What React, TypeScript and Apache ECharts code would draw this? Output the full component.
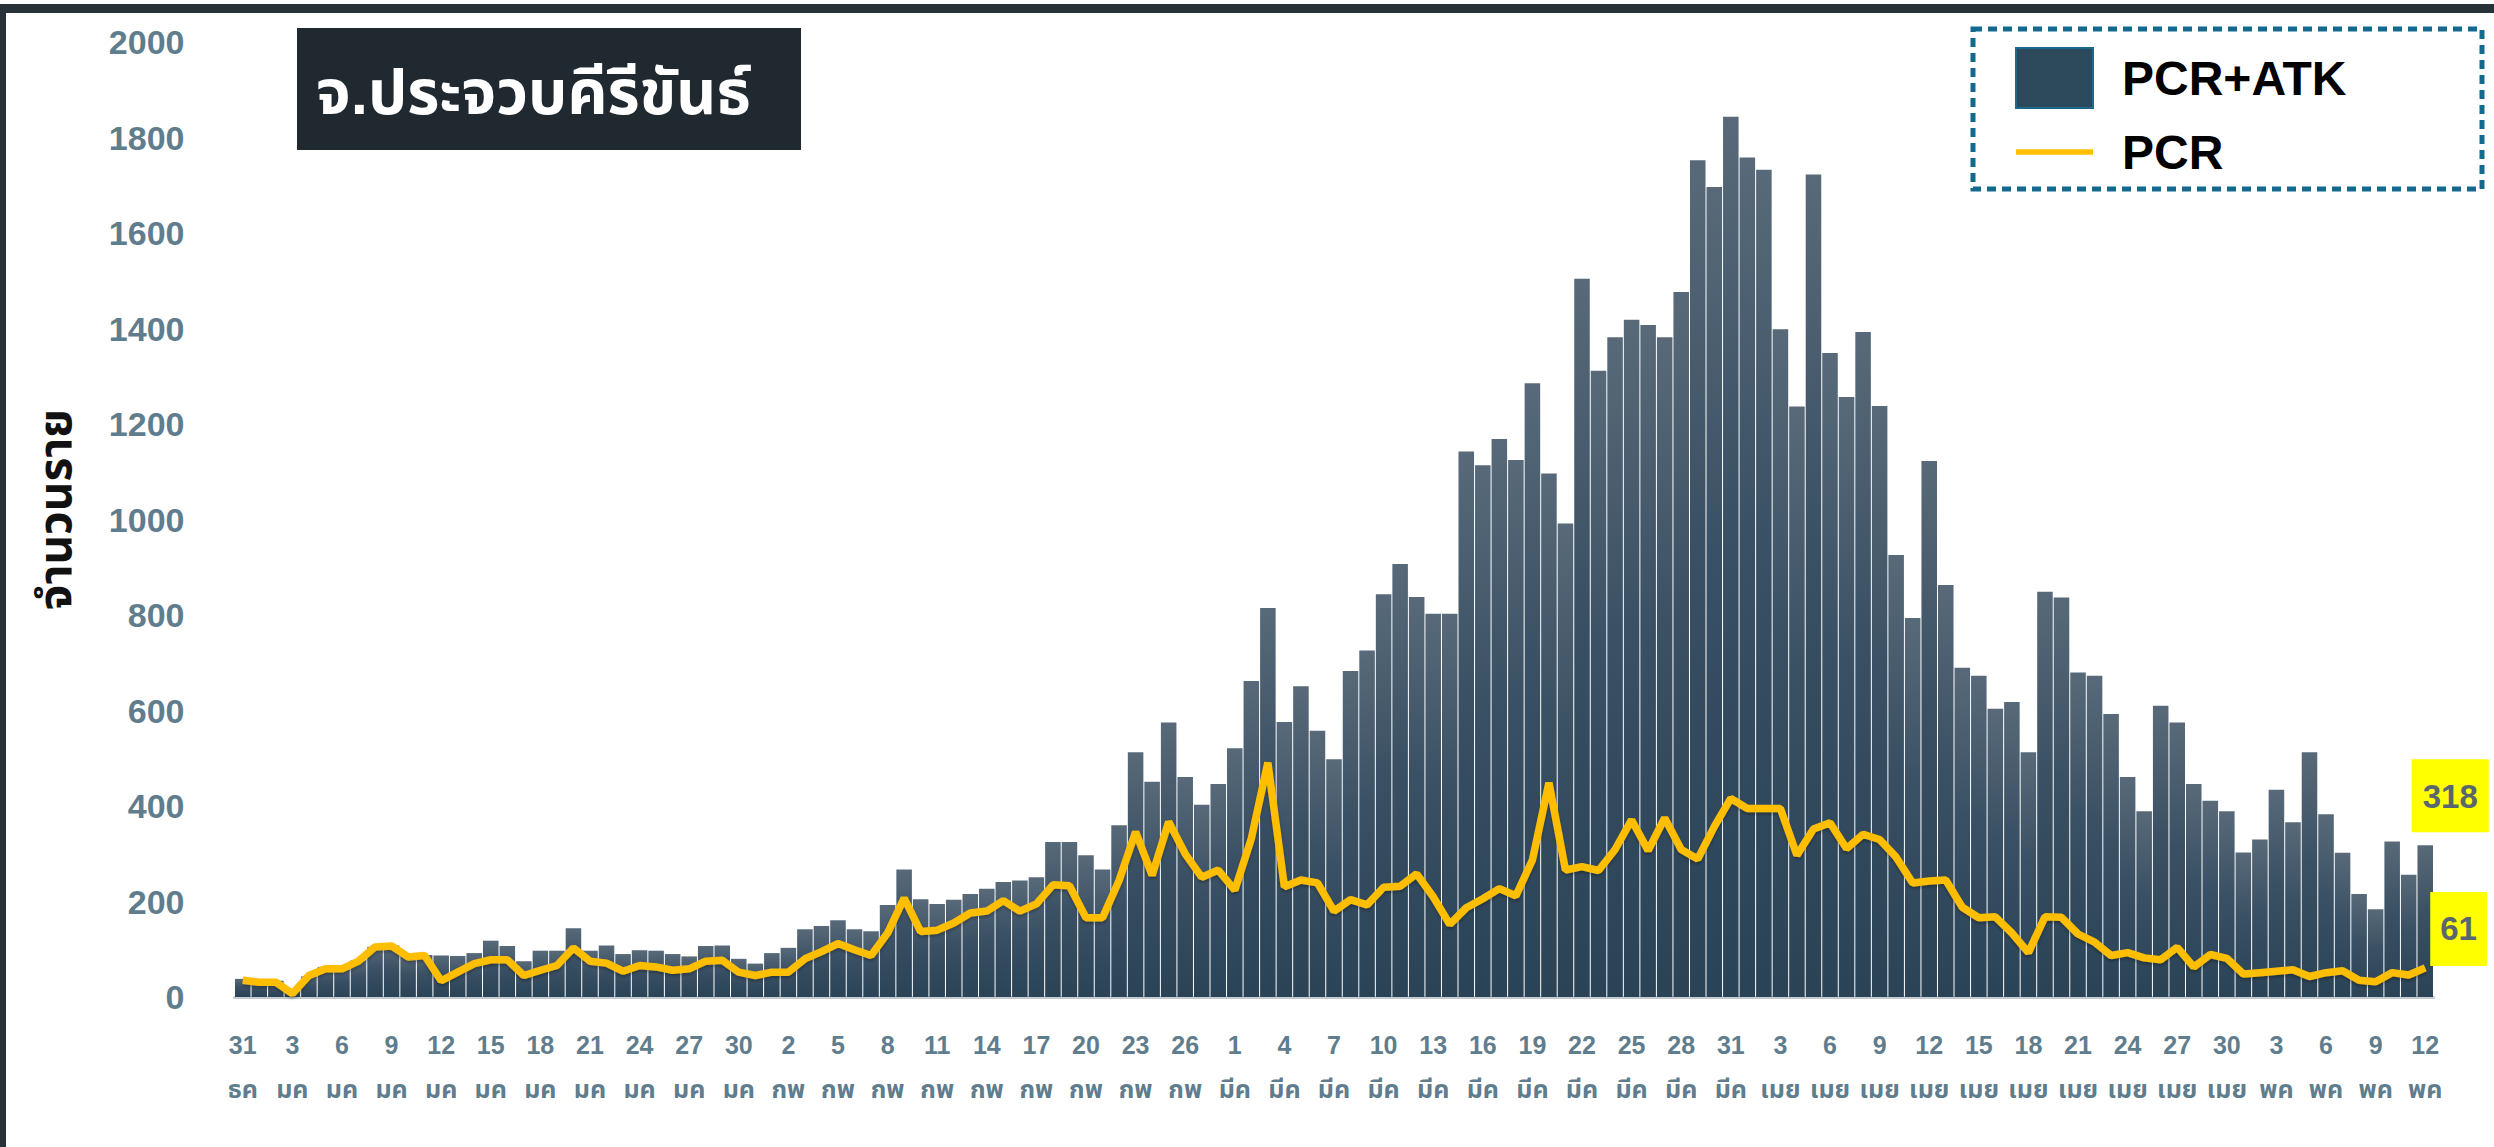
import React, { useEffect, useRef } from 'react';
import * as echarts from 'echarts';

// Month labels and the day ranges shown (31 Dec .. 12 May)
const monthNames = ['ธค', 'มค', 'กพ', 'มีค', 'เมย', 'พค'];
const monthFirstDay = [31, 1, 1, 1, 1, 1];
const monthLastDay = [31, 31, 28, 31, 30, 12];

// Daily new cases, PCR + ATK (bars)
const pcrAtk = [
  38, 35, 34, 15, 43, 63, 63, 77, 105, 108,
  88, 88, 87, 86, 92, 118, 107, 75, 97, 97,
  144, 97, 108, 90, 98, 97, 90, 85, 107, 108,
  80, 70, 92, 103, 142, 149, 161, 142, 138, 193,
  267, 205, 195, 204, 216, 227, 241, 244, 251, 325,
  325, 297, 267, 360, 513, 451, 575, 461, 403, 446,
  521, 662, 815, 576, 651, 558, 498, 683, 726, 844,
  907, 838, 803, 803, 1143, 1114, 1169, 1125, 1286, 1097,
  992, 1505, 1312, 1382, 1419, 1408, 1382, 1477, 1753, 1697,
  1844, 1759, 1733, 1399, 1237, 1723, 1349, 1257, 1393, 1238,
  926, 794, 1123, 863, 690, 673, 604, 618, 513, 849,
  837, 680, 673, 593, 461, 389, 610, 575, 446, 411,
  389, 303, 330, 434, 366, 513, 383, 302, 216, 184,
  326, 256, 318,
];

// Daily new cases, PCR only (line)
const pcr = [
  35, 31, 31, 7, 45, 59, 59, 75, 105, 107,
  84, 87, 34, 52, 70, 78, 78, 45, 56, 66,
  103, 75, 71, 54, 66, 63, 56, 59, 75, 77,
  52, 45, 52, 52, 80, 95, 112, 99, 87, 134,
  207, 137, 140, 155, 176, 180, 202, 180, 195, 235,
  233, 166, 166, 244, 346, 255, 367, 300, 251, 266,
  224, 332, 491, 231, 245, 239, 180, 204, 193, 230,
  232, 258, 210, 152, 187, 206, 227, 212, 287, 449,
  266, 273, 265, 309, 371, 307, 375, 309, 289, 357,
  416, 395, 395, 395, 297, 352, 365, 311, 341, 330,
  293, 239, 243, 245, 188, 166, 168, 134, 93, 168,
  167, 132, 115, 87, 93, 82, 78, 104, 63, 89,
  81, 48, 51, 54, 57, 43, 51, 55, 35, 32,
  51, 46, 61,
];

const yTicks = { min: 0, max: 2000, step: 200 };

const titleText = 'จ.ประจวบคีรีขันธ์';
const yName = 'จำนวนราย';
const seriesNames = ['PCR+ATK', 'PCR'];

function buildCategories(): string[] {
  const out: string[] = [];
  for (let m = 0; m < monthNames.length; m++) {
    for (let d = monthFirstDay[m]; d <= monthLastDay[m]; d++) {
      out.push(d + ' ' + monthNames[m]);
    }
  }
  return out;
}

const FONT = "'Liberation Sans', Arial, 'Noto Sans Thai', 'Noto Sans', sans-serif";
const AXIS_COLOR = '#5f7d8d';

export default function App() {
  const ref = useRef<HTMLDivElement>(null);

  useEffect(() => {
    document.body.style.margin = '0';
    document.body.style.overflow = 'hidden';
    if (!ref.current) return;
    const chart = echarts.init(ref.current, null, { renderer: 'svg' });
    const categories = buildCategories();
    const last = pcrAtk.length - 1;

    const barData = pcrAtk.map((v, i) =>
      i === last
        ? {
            value: v,
            label: {
              show: true,
              position: 'top',
              distance: 0,
              offset: [25, -13],
              formatter: '{c}',
              backgroundColor: '#ffff00',
              padding: [21, 11, 20, 11],
              fontSize: 33,
              lineHeight: 32,
              fontWeight: 'bold',
              color: '#58666e',
              fontFamily: FONT,
            },
          }
        : v
    );

    const option: any = {
      animation: false,
      backgroundColor: '#ffffff',
      textStyle: { fontFamily: FONT },
      grid: { left: 234.5, right: 60.5, top: 42.4, bottom: 150, containLabel: false },
      legend: {
        orient: 'vertical',
        left: 2010,
        top: 42,
        itemWidth: 77,
        itemHeight: 60,
        itemGap: 19,
        textStyle: {
          fontSize: 48,
          fontWeight: 'bold',
          color: '#000000',
          fontFamily: FONT,
          padding: [0, 0, 0, 24],
        },
        data: [
          {
            name: seriesNames[0],
            icon: 'rect',
            itemStyle: { color: '#2d4a5d', borderColor: '#1a6a8c', borderWidth: 2 },
          },
          {
            name: seriesNames[1],
            icon: 'path://M0,0L100,0L100,7L0,7Z',
            itemStyle: { color: '#ffbe00' },
          },
        ],
      },
      xAxis: {
        type: 'category',
        data: categories,
        axisTick: { show: false },
        axisLine: { lineStyle: { color: '#c5cbd0', width: 3 } },
        axisLabel: {
          interval: 2,
          formatter: (v: string) => v.replace(' ', '\n'),
          fontSize: 25,
          lineHeight: 44,
          fontWeight: 'bold',
          color: AXIS_COLOR,
          margin: 26,
          fontFamily: FONT,
        },
      },
      yAxis: {
        type: 'value',
        min: yTicks.min,
        max: yTicks.max,
        interval: yTicks.step,
        splitLine: { show: false },
        axisLine: { show: false },
        axisTick: { show: false },
        axisLabel: {
          fontSize: 34,
          fontWeight: 'bold',
          color: AXIS_COLOR,
          margin: 50,
          fontFamily: FONT,
          formatter: (v: number) => String(v),
        },
        name: yName,
        nameLocation: 'middle',
        nameRotate: 90,
        nameGap: 157,
        nameTextStyle: { fontSize: 46, fontWeight: 'bold', color: '#111111', fontFamily: FONT, padding: [0, 0, 0, 20] },
      },
      series: [
        {
          name: seriesNames[0],
          type: 'bar',
          data: barData,
          barCategoryGap: '6%',
          itemStyle: {
            color: new echarts.graphic.LinearGradient(0, 0, 0, 1, [
              { offset: 0, color: '#586a79' },
              { offset: 0.45, color: '#3a5064' },
              { offset: 1, color: '#2a4356' },
            ]),
          },
          z: 2,
        },
        {
          name: seriesNames[1],
          type: 'line',
          data: pcr,
          showSymbol: false,
          symbol: 'none',
          color: '#ffbe00',
          lineStyle: {
            width: 7.5,
            color: '#ffbe00',
            shadowColor: 'rgba(0,0,0,0.3)',
            shadowBlur: 3,
            shadowOffsetY: 2,
          },
          endLabel: {
            show: true,
            distance: 5,
            offset: [0, -39],
            formatter: '{c}',
            backgroundColor: '#ffff00',
            padding: [21, 10, 21, 10],
            fontSize: 33,
            lineHeight: 32,
            fontWeight: 'bold',
            color: '#58666e',
            fontFamily: FONT,
          },
          z: 3,
        },
      ],
      graphic: [
        { type: 'rect', shape: { x: 0, y: 4, width: 2494, height: 9 }, style: { fill: '#263238' }, z: 10 },
        { type: 'rect', shape: { x: 0, y: 4, width: 6, height: 1143 }, style: { fill: '#263238' }, z: 10 },
        { type: 'rect', shape: { x: 297, y: 28, width: 504, height: 122 }, style: { fill: '#212930' }, z: 10 },
        {
          type: 'text',
          x: 316,
          y: 92,
          style: {
            text: titleText,
            fill: '#ffffff',
            font: 'bold 62px ' + FONT,
            verticalAlign: 'middle',
          },
          z: 11,
        },
        {
          type: 'rect',
          shape: { x: 1973, y: 29, width: 509, height: 160 },
          style: { fill: 'none', stroke: '#14698f', lineWidth: 5, lineDash: [9, 6] },
          z: 10,
        },
      ],
    };

    chart.setOption(option);
    return () => chart.dispose();
  }, []);

  return <div ref={ref} style={{ width: 2494, height: 1147 }} />;
}
